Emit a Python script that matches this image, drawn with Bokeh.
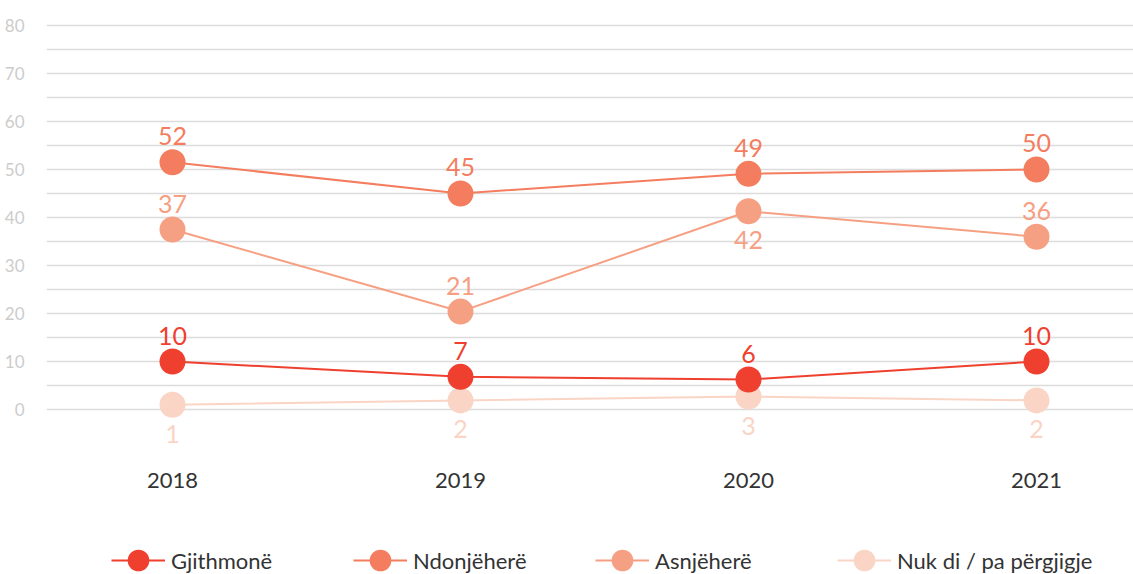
from bokeh.plotting import figure
from bokeh.layouts import column
from bokeh.models import (ColumnDataSource, Range1d, FixedTicker, Legend, LegendItem)
from bokeh.core.properties import value
from bokeh.embed import file_html
from bokeh.resources import INLINE

# ---- data ----
years = ["2018", "2019", "2020", "2021"]
series_names = ["Gjithmonë", "Ndonjëherë", "Asnjëherë", "Nuk di / pa përgjigje"]
gjithmone = [10.0, 6.8, 6.25, 10.0]
ndonjehere = [51.5, 45.0, 49.1, 50.0]
asnjehere = [37.5, 20.4, 41.3, 36.0]
nuk_di = [1.0, 1.9, 2.7, 1.9]
gjithmone_labels = ["10", "7", "6", "10"]
ndonjehere_labels = ["52", "45", "49", "50"]
asnjehere_labels = ["37", "21", "42", "36"]
nuk_di_labels = ["1", "2", "3", "2"]
y_ticks = [0, 10, 20, 30, 40, 50, 60, 70, 80]

# ---- style ----
colors = ["#EF3F2F", "#F37D5E", "#F6A083", "#FAD5C6"]
label_place = [
    ["above"] * 4,
    ["above"] * 4,
    ["above", "above", "below", "above"],
    ["below"] * 4,
]
FONT = "Lato"

x_pos = list(range(len(years)))

p = figure(width=1133, height=520, output_backend="svg", toolbar_location=None,
           x_range=Range1d(-0.4375, 3.3368), y_range=Range1d(-8.958, 85.208),
           min_border_left=46, min_border_right=0, min_border_top=0,
           min_border_bottom=68)
p.outline_line_color = None
p.background_fill_color = "white"
p.border_fill_color = "white"

p.xgrid.visible = False
p.ygrid.ticker = FixedTicker(ticks=list(range(0, 85, 5)))
p.ygrid.grid_line_color = "#dcdcdc"
p.ygrid.grid_line_width = 1.3

p.yaxis.ticker = FixedTicker(ticks=y_ticks)
p.yaxis.axis_line_color = None
p.yaxis.major_tick_line_color = None
p.yaxis.minor_tick_line_color = None
p.yaxis.major_label_text_color = "#cccccc"
p.yaxis.major_label_text_font = FONT
p.yaxis.major_label_text_font_size = "17px"
p.yaxis.major_label_standoff = 16

p.xaxis.ticker = FixedTicker(ticks=x_pos)
p.xaxis.major_label_overrides = {i: y for i, y in enumerate(years)}
p.xaxis.axis_line_color = None
p.xaxis.major_tick_line_color = None
p.xaxis.minor_tick_line_color = None
p.xaxis.major_label_text_color = "#333333"
p.xaxis.major_label_text_font = FONT
p.xaxis.major_label_text_font_size = "22px"
p.xaxis.major_label_standoff = 14

all_vals = [gjithmone, ndonjehere, asnjehere, nuk_di]
all_labels = [gjithmone_labels, ndonjehere_labels, asnjehere_labels, nuk_di_labels]

sources = {}
# draw in reverse so the darker series sit on top
for idx in [3, 2, 1, 0]:
    src = ColumnDataSource(dict(
        x=x_pos, y=all_vals[idx], text=all_labels[idx],
        off=[-26 if pl == "above" else 29 for pl in label_place[idx]],
    ))
    sources[idx] = src
    p.line("x", "y", source=src, line_color=colors[idx], line_width=2)
    p.scatter("x", "y", source=src, size=26, fill_color=colors[idx],
              line_color=colors[idx], line_width=0)
    p.text("x", "y", text="text", source=src, y_offset="off",
           text_color=colors[idx], text_font=value(FONT), text_font_size="25px",
           text_align="center", text_baseline="middle")

# ---- legend strip below the chart ----
lg = figure(width=1133, height=54, output_backend="svg", toolbar_location=None,
            x_range=Range1d(0, 1), y_range=Range1d(0, 1),
            x_axis_type=None, y_axis_type=None,
            min_border_left=0, min_border_right=0, min_border_top=0,
            min_border_bottom=0)
lg.outline_line_color = None
lg.xgrid.visible = False
lg.ygrid.visible = False

items = []
for idx in range(4):
    lr = lg.line("x", "y", source=sources[idx], line_color=colors[idx],
                 line_width=2, visible=False)
    sr = lg.scatter("x", "y", source=sources[idx], size=26, fill_color=colors[idx],
                    line_color=colors[idx], line_width=0, visible=False)
    items.append(LegendItem(label=series_names[idx], renderers=[lr, sr]))

legend = Legend(items=items, orientation="horizontal", location=(65, -13),
                glyph_width=54, glyph_height=54, label_standoff=6,
                label_width=182, spacing=0, padding=0, margin=0,
                label_text_font=FONT, label_text_font_size="22px",
                label_text_color="#333333",
                background_fill_alpha=0, border_line_color=None)
lg.add_layout(legend)

layout = column(p, lg, spacing=0)
open("out.html", "w").write(file_html(layout, INLINE))
